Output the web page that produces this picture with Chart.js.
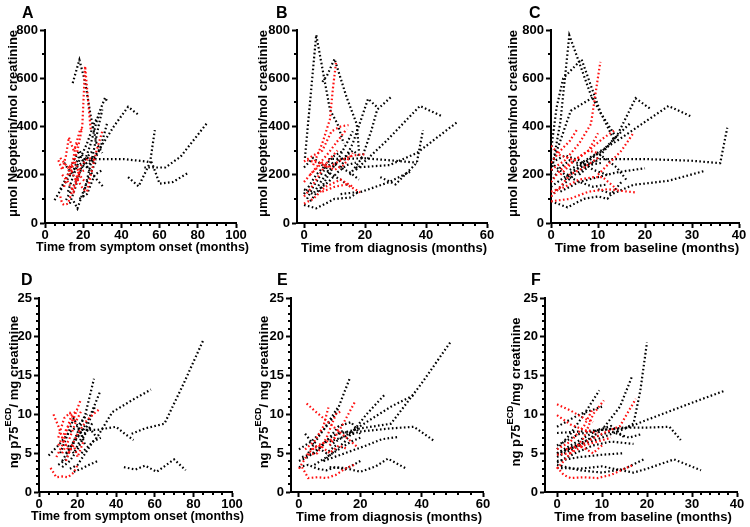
<!DOCTYPE html>
<html>
<head>
<meta charset="utf-8">
<script src="https://cdn.jsdelivr.net/npm/chart.js@4.4.1/dist/chart.umd.min.js"></script>
<style>
  html, body { margin: 0; padding: 0; background: #fff; }
  #wrap { position: relative; width: 750px; height: 527px; overflow: hidden; }
  #wrap canvas { position: absolute; }
</style>
</head>
<body>
<div id="wrap">
  <canvas id="cA" style="left:0;top:0" width="250" height="263"></canvas>
  <canvas id="cB" style="left:250px;top:0" width="250" height="263"></canvas>
  <canvas id="cC" style="left:500px;top:0" width="250" height="263"></canvas>
  <canvas id="cD" style="left:0;top:263px" width="250" height="264"></canvas>
  <canvas id="cE" style="left:250px;top:263px" width="250" height="264"></canvas>
  <canvas id="cF" style="left:500px;top:263px" width="250" height="264"></canvas>
</div>
<script>
/* ---------- DATA: one [x, y] list per subject ---------- */
// Neopterin vs time from symptom onset
const aBlack = [
  [[14.5,580],[18,676],[21,585],[24,440],[27,330],[30,290]],
  [[11,95],[16,170],[20,240],[24,330],[28,450],[31.5,520],[32.5,505]],
  [[22,230],[28,300],[36,400],[43.5,482],[49,448]],
  [[22,270],[27,265],[41,265],[53,255],[56,250],[60,163],[67,170],[75,208]],
  [[43.5,190],[49,152],[55,250],[57.5,385]],
  [[52,230],[63,230],[71,275],[85,416]],
  [[5,95],[10,160],[15,220],[20,255],[25,300]],
  [[12,130],[15,200],[18,260],[22,330],[26,420],[28,440]],
  [[15,90],[17,60],[20,130],[24,210],[27,260]],
  [[20,110],[22,180],[25,280],[28,400],[30,470]],
  [[10,250],[14,200],[18,280],[22,230],[26,190],[30.5,150]],
  [[25,250],[29,310],[32.5,413]],
  [[18,100],[22,120],[26,200],[30.5,222]],
  [[8,140],[12,200],[15,260],[18,300],[21,260]],
  [[13,80],[16,150],[19,230],[22,250],[25,270]]
];
const aRed = [
  [[13,200],[17,300],[19.5,400],[21,650],[22,560],[24,380]],
  [[7,260],[9,220],[11,280],[12.5,355],[15,300],[17,330]],
  [[8,110],[9,80],[10,75],[12,80],[15,150],[18,200]],
  [[17,180],[20,140],[22,130],[24,200],[27,300],[30,380]],
  [[8,270],[12,230],[16,250],[18,200],[21,170]],
  [[14,230],[16,320],[18.5,390],[19.5,385]],
  [[10,150],[13,230],[16,180],[19,240],[23,270],[26,260]],
  [[9,200],[12,170],[15,130],[18,210],[21,220]]
];

// Neopterin vs time from diagnosis
const bBlack = [
  [[0.3,270],[4,780],[8.5,470],[11,410],[13,330]],
  [[6,585],[7.5,610],[10,680],[14,520],[17.3,410],[18,300]],
  [[12,230],[16,330],[19,440],[21,515],[24,480]],
  [[15,200],[19,270],[22,380],[24,470],[28.7,524]],
  [[17,220],[27,340],[38,485],[45.5,441]],
  [[8,265],[20,268],[30,258],[37,250]],
  [[25,190],[30,160],[37,250],[39,385]],
  [[12,120],[19,130],[28,170],[35.3,216]],
  [[17,230],[28,240],[37,290],[50,416]],
  [[0,75],[4,61],[7,80],[10,100],[15,105],[18,130]],
  [[0,120],[2,160],[4,200],[7,240],[10,280],[13,300]],
  [[1,100],[3,150],[6,210],[9,250],[12,230],[15,210],[18,180]],
  [[0,140],[3,120],[6,180],[9,230],[12,260],[16,300],[19,270]],
  [[2,90],[5,140],[8,170],[11,210],[14,240],[17,250]],
  [[0,230],[3,270],[6,240],[9,200],[12,180],[15,150]],
  [[5,130],[8,200],[11,260],[14,330],[16,380]]
];
const bRed = [
  [[0,255],[3,280],[6,300],[9,380],[12,400],[14.6,406]],
  [[0,170],[4,230],[8,290],[11,340],[14,390]],
  [[0,110],[2,140],[5,200],[8,260],[11,300]],
  [[0,80],[3,100],[7,150],[12,180],[16,150]],
  [[1,260],[5,250],[8,230],[12,260],[16,280],[20,285]],
  [[6,130],[10,150],[14,160],[18.4,127]],
  [[3,240],[6,330],[8.5,430],[9.5,560],[10.5,665]],
  [[2,200],[6,250],[10,220],[13,240],[16,290]]
];

// Neopterin vs time from baseline
const cBlack = [
  [[0,200],[2,420],[3.9,778],[8.5,530],[11,440],[13.5,340]],
  [[0,300],[1.2,480],[2.6,600],[6.5,678],[10.6,455],[14.2,345]],
  [[0,230],[4.2,465],[9.2,524]],
  [[6,200],[10,270],[14,360],[18,517],[21,475]],
  [[4,220],[14,340],[25,485],[30,440]],
  [[0,150],[5,220],[10.5,265],[20,265],[30,258],[36,248],[37.5,395]],
  [[10,140],[13,120],[17.5,158],[25,175],[32.5,215]],
  [[0,90],[3.5,65],[7,100],[10,110],[12,100],[15,170]],
  [[2,130],[6,170],[10,190],[14,210],[20,227]],
  [[3,180],[7,250],[11,300],[14,360],[16.8,413]],
  [[0,170],[2,230],[4,260],[7,240],[10,290],[14,230],[16,180]],
  [[0,110],[2,150],[5,200],[8,240],[11,250]],
  [[1,260],[3,280],[6,260],[9,220],[12,200]],
  [[0,250],[3,200],[6,170],[9,150],[12,160]]
];
const cRed = [
  [[0,220],[3,260],[6,330],[8.5,410],[9.5,540],[10.5,668]],
  [[0,250],[2,300],[4,340],[5.5,386]],
  [[0,320],[2,280],[5,260],[8,300],[10,372]],
  [[2,200],[5,260],[8,300],[11,350],[13.6,385]],
  [[10,200],[12,240],[15,300],[17.5,372]],
  [[0,90],[4,100],[8,130],[12,140],[18.2,126]],
  [[0,130],[3,150],[6,180],[9,190],[11,190],[14,140]],
  [[0,170],[2,220],[5,260],[8,300],[10,290]],
  [[0,110],[2,150],[4,200],[7,230],[10,270]]
];

// p75ECD vs time from symptom onset
const dBlack = [
  [[20,8],[30,8],[40,8.4],[45,7.4],[49,6.7]],
  [[48,7.5],[55,8.2],[65,8.8],[75,14],[85,19.5]],
  [[22,5],[30,7],[38,10.3],[48,11.8],[58,13.2]],
  [[44,3.2],[50,2.9],[55,3.4],[61,2.6],[70,4.2],[76,2.8]],
  [[12,4],[18,6.5],[24,10],[28.5,14.6]],
  [[14,5],[20,7],[26,9.5],[31.6,12.9]],
  [[5,4.7],[10,6],[15,7.5],[20,8.5],[25,10]],
  [[18,2.6],[22,3],[26,3.5],[30.5,4]],
  [[12,3.2],[16,4],[20,5.5],[24,7.5],[28,9]],
  [[15,6],[18,5],[22,7],[26,8.3],[30,7]],
  [[10,3.5],[14,4.2],[18,6.5],[22,7.8],[25,8.5],[29,11]],
  [[16,3],[20,3.5],[24,5],[28,6.5],[32,7]],
  [[11,5],[15,7.5],[18,9.5],[21,8],[24,6]]
];
const dRed = [
  [[7.5,10],[10,8.5],[12,7],[14,6],[16,5]],
  [[6,3.1],[9,1.9],[12,2],[15,1.9],[18,2.5],[20,3.5]],
  [[10,6],[14,8],[18,9.5],[21.5,11.8]],
  [[12,5],[16,7],[19,9],[22,10.5]],
  [[14,4],[17,6],[20,7.5],[24,9],[28,10],[31.5,10.7]],
  [[9,4.5],[12,6],[15,8.5],[17,10],[20,10.5]],
  [[15,5],[18,6],[20,4.5],[23,6.5]],
  [[10,7],[13,9.5],[16,10.2],[19,9]]
];

// p75ECD vs time from diagnosis
const eBlack = [
  [[13,7.5],[20,8.2],[30,8.8],[40,14],[49.7,19.5]],
  [[8,4],[15,6.5],[22,10],[28.3,12.7]],
  [[10,6],[20,8.5],[30,11],[38,12.6]],
  [[10,6.5],[20,7.8],[30,8.2],[37.5,8.4],[44,6.6]],
  [[8,4],[15,5],[22,6],[27,6.8],[32.4,7.1]],
  [[10,3.2],[15,3.1],[20,2.6],[25,3.3],[29,4.3],[35,3]],
  [[3,5],[7,7.5],[12,10],[16.6,14.7]],
  [[0,3.2],[3,3.5],[6,3],[9,2.8],[12,3.2],[15,2.9],[20,4]],
  [[0,5.5],[4,6.5],[8,8],[12.5,10.8]],
  [[1,4.5],[5,5],[9,6.5],[13,8.5],[17,9],[20,7.5]],
  [[2,7.5],[5,6],[9,5],[12,6]],
  [[0,4],[3,4.5],[6,5.5],[10,7],[14,7.8],[18,7.5]],
  [[5,3.5],[9,4.5],[13,5.5],[17,6.5],[20,7]]
];
const eRed = [
  [[2.5,11.4],[5,10.5],[8,9.5],[11,8.5],[14,7.5],[17,6.5],[19,5.8]],
  [[1,3.2],[3,1.8],[6,1.9],[9,1.8],[12,2.2],[15,3],[18,3.5]],
  [[10,6],[14,8.5],[18.5,11.8]],
  [[2,5.5],[5,6.5],[8,8.5],[9.6,10.9]],
  [[3,4.8],[6,5],[9,7],[12,10],[14,10.5]],
  [[0,3],[3,5],[6,6],[9,6.5],[12,7]],
  [[4,5.5],[7,6],[10,5],[13,6],[16,5.5]]
];

// p75ECD vs time from baseline
const fBlack = [
  [[0,7.6],[5,7.8],[10,8],[15,8.2],[17,8.8],[18.5,13],[20,19.3]],
  [[0,4.5],[5,6],[10,8],[14,11],[16.6,14.8]],
  [[0,5],[10,7],[20,9.3],[30,11.5],[37,13]],
  [[0,5.5],[3,7.5],[6,10],[9.4,13.1]],
  [[0,8.4],[5,10],[10,11]],
  [[0,6],[5,7.5],[10,8],[15,8.3],[20,8.3],[25,8.4],[27.5,6.7]],
  [[0,3.1],[5,3],[10,3.3],[17,2.5],[20,3],[26,4.2],[32,2.8]],
  [[0,3.5],[5,2.8],[10,2.5],[15,3],[19.3,4.2]],
  [[0,4],[5,4.5],[10,4.8],[14.8,5]],
  [[0,4.8],[4,6],[8,7],[12,7.8],[16,7],[19,7.5]],
  [[0,5],[3,6],[6,7],[9,8],[12,8.5],[15,7]],
  [[0,3.8],[4,5],[8,6],[12,6.5],[17,6.2]]
];
const fRed = [
  [[0,11.3],[3,10.5],[6,9.5],[8,9]],
  [[0,9.9],[3,8.7],[6,8],[9,7.6]],
  [[0,3.2],[1.5,2.2],[3,1.8],[6,1.9],[9,1.8],[12,2.2],[15,3],[17,3.5]],
  [[5,6],[10,7.5],[14,8.5],[17.5,12]],
  [[0,5.5],[3,6.5],[6,8.5],[8,10.8]],
  [[0,4.8],[3,5],[6,7],[8,10],[10.4,11.8]],
  [[0,3],[3,5],[6,6],[9,6.5],[12,7]],
  [[2,5.5],[5,6],[8,5],[10,6]]
];

// tick labels
const xTicks100 = [0, 20, 40, 60, 80, 100];
const xTicks60 = [0, 20, 40, 60];
const xTicks40 = [0, 10, 20, 30, 40];
const yTicksNeo = [0, 200, 400, 600, 800];
const yTicksP75 = [0, 5, 10, 15, 20, 25];

const xTitleOnset = 'Time from symptom onset (months)';
const xTitleDiag = 'Time from diagnosis (months)';
const xTitleBase = 'Time from baseline (months)';
const yTitleNeo = [{ t: 'μmol Neopterin/mol creatinine' }];
const yTitleP75 = [{ t: 'ng p75' }, { t: 'ECD', sup: true }, { t: '/ mg creatinine' }];
const yTitleP75b = [{ t: 'ng p75' }, { t: 'ECD', sup: true }, { t: '/mg creatinine' }];

/* ---------- LAYOUT ---------- */
const FONT = '"Liberation Sans", Arial, Helvetica, sans-serif';
const RED = '#ff1010';
const BLACK = '#000';

const panels = [
  { id: 'cA', letter: 'A', black: aBlack, red: aRed, xMin: 0, xMax: 100, xTicks: xTicks100, xMinor: 5,
    yMax: 800, yTicks: yTicksNeo, yMinor: 100, xTitle: xTitleOnset, yTitle: yTitleNeo, xtSize: 12.5,
    area: { l: 45, r: 236, t: 30, b: 223 }, h: 263, lx: 22, ly: 18, tx: 13, ty: 248 },
  { id: 'cB', letter: 'B', black: bBlack, red: bRed, xMin: -2.3, xMax: 60, xTicks: xTicks60, xMinor: 4,
    yMax: 800, yTicks: yTicksNeo, yMinor: 100, xTitle: xTitleDiag, yTitle: yTitleNeo, xtSize: 13,
    area: { l: 47, r: 237, t: 30, b: 223 }, h: 263, lx: 26, ly: 18, tx: 13, ty: 248 },
  { id: 'cC', letter: 'C', black: cBlack, red: cRed, xMin: 0, xMax: 40, xTicks: xTicks40, xMinor: 2,
    yMax: 800, yTicks: yTicksNeo, yMinor: 100, xTitle: xTitleBase, yTitle: yTitleNeo, xtSize: 13.5,
    area: { l: 51, r: 239, t: 30, b: 223 }, h: 263, lx: 29, ly: 18, tx: 13, ty: 248 },
  { id: 'cD', letter: 'D', black: dBlack, red: dRed, xMin: 0, xMax: 100, xTicks: xTicks100, xMinor: 5,
    yMax: 25, yTicks: yTicksP75, yMinor: 1, xTitle: xTitleOnset, yTitle: yTitleP75, xtSize: 12.5,
    area: { l: 39, r: 232, t: 35, b: 229 }, h: 264, lx: 21, ly: 22, tx: 14, ty: 254 },
  { id: 'cE', letter: 'E', black: eBlack, red: eRed, xMin: -2.6, xMax: 60, xTicks: xTicks60, xMinor: 4,
    yMax: 25, yTicks: yTicksP75, yMinor: 1, xTitle: xTitleDiag, yTitle: yTitleP75, xtSize: 13,
    area: { l: 41, r: 233, t: 35, b: 229 }, h: 264, lx: 27, ly: 22, tx: 14, ty: 254 },
  { id: 'cF', letter: 'F', black: fBlack, red: fRed, xMin: -2.67, xMax: 40, xTicks: xTicks40, xMinor: 2,
    yMax: 25, yTicks: yTicksP75, yMinor: 1, xTitle: xTitleBase, yTitle: yTitleP75b, xtSize: 13,
    area: { l: 45, r: 237, t: 35, b: 229 }, h: 264, lx: 31, ly: 22, tx: 16, ty: 254 }
];

function lineSets(lines, color) {
  return lines.map(pts => ({
    data: pts.map(p => ({ x: p[0], y: p[1] })),
    showLine: true,
    borderColor: color,
    borderWidth: 2.2,
    borderDash: [1.6, 2.4],
    borderCapStyle: 'butt',
    pointRadius: 0,
    pointHoverRadius: 0,
    fill: false,
    tension: 0
  }));
}

// axis titles (y with superscript), panel letter, minor ticks
const decor = {
  id: 'decor',
  afterDraw(chart, args, o) {
    const ctx = chart.ctx;
    const a = chart.chartArea;
    const xs = chart.scales.x, ys = chart.scales.y;
    ctx.save();
    ctx.strokeStyle = '#000';
    ctx.fillStyle = '#000';
    ctx.lineWidth = 2;

    // minor ticks
    ctx.beginPath();
    for (let v = 0; v <= o.xMax + 1e-6; v += o.xMinor) {
      if (o.xTicks.includes(Math.round(v * 100) / 100)) continue;
      const px = Math.round(xs.getPixelForValue(v));
      ctx.moveTo(px, a.bottom);
      ctx.lineTo(px, a.bottom + 3);
    }
    for (let v = 0; v <= o.yMax + 1e-6; v += o.yMinor) {
      if (o.yTicks.includes(v)) continue;
      const py = Math.round(ys.getPixelForValue(v));
      ctx.moveTo(a.left, py);
      ctx.lineTo(a.left - 3, py);
    }
    ctx.stroke();

    // panel letter
    ctx.font = 'bold 16px ' + FONT;
    ctx.textAlign = 'left';
    ctx.textBaseline = 'alphabetic';
    ctx.fillText(o.letter, o.lx, o.ly);

    // x axis title
    ctx.font = 'bold ' + o.xtSize + 'px ' + FONT;
    ctx.textAlign = 'center';
    ctx.textBaseline = 'middle';
    ctx.fillText(o.xTitle, (a.left + a.right) / 2 + 2, o.ty);

    // y axis title
    const big = 'bold 13px ' + FONT;
    const small = 'bold 9px ' + FONT;
    let w = 0;
    o.yTitle.forEach(s => { ctx.font = s.sup ? small : big; w += ctx.measureText(s.t).width; });
    ctx.translate(o.tx, (a.top + a.bottom) / 2 - 3);
    ctx.rotate(-Math.PI / 2);
    ctx.textAlign = 'left';
    ctx.textBaseline = 'middle';
    let x = -w / 2;
    o.yTitle.forEach(s => {
      ctx.font = s.sup ? small : big;
      ctx.fillText(s.t, x, s.sup ? -5 : 0);
      x += ctx.measureText(s.t).width;
    });
    ctx.restore();
  }
};

panels.forEach(p => {
  const tickFont = { family: FONT, size: 13, weight: 'bold' };
  new Chart(document.getElementById(p.id), {
    type: 'scatter',
    data: { datasets: [...lineSets(p.red, RED), ...lineSets(p.black, BLACK)] },
    options: {
      responsive: false,
      animation: false,
      events: [],
      layout: { padding: { left: 0, top: p.area.t, right: 250 - p.area.r, bottom: 0 } },
      plugins: {
        legend: { display: false },
        tooltip: { enabled: false },
        decor: p
      },
      scales: {
        x: {
          type: 'linear',
          min: p.xMin,
          max: p.xMax,
          afterBuildTicks: s => { s.ticks = p.xTicks.map(v => ({ value: v })); },
          afterFit: s => { s.height = p.h - p.area.b; },
          border: { display: true, color: '#000', width: 2 },
          grid: { drawOnChartArea: false, drawTicks: true, tickLength: 5, tickWidth: 2, tickColor: '#000' },
          ticks: { color: '#000', font: tickFont, padding: 0, maxRotation: 0 }
        },
        y: {
          type: 'linear',
          min: 0,
          max: p.yMax,
          afterBuildTicks: s => { s.ticks = p.yTicks.map(v => ({ value: v })); },
          afterFit: s => { s.width = p.area.l; },
          border: { display: true, color: '#000', width: 2 },
          grid: { drawOnChartArea: false, drawTicks: true, tickLength: 5, tickWidth: 2, tickColor: '#000' },
          ticks: { color: '#000', font: tickFont, padding: 2 }
        }
      }
    },
    plugins: [decor]
  });
});
</script>
</body>
</html>
